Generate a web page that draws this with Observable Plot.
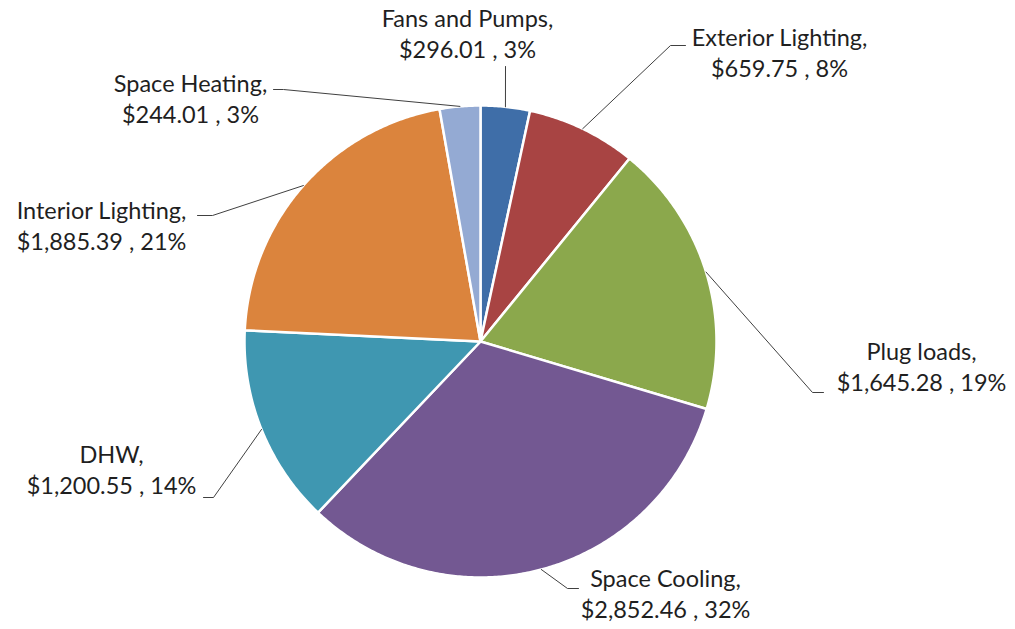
<!DOCTYPE html>
<html><head><meta charset="utf-8">
<script src="https://cdn.jsdelivr.net/npm/d3@7"></script>
<script src="https://cdn.jsdelivr.net/npm/@observablehq/plot@0.6"></script>
<style>body{margin:0;background:#fff;overflow:hidden}</style>
</head><body><div id="chart"></div>
<script>
// ---- data ----
const categories = ["Fans and Pumps","Exterior Lighting","Plug loads","Space Cooling","DHW","Interior Lighting","Space Heating"];
const costs = [296.01, 659.75, 1645.28, 2852.46, 1200.55, 1885.39, 244.01];
const colors = ["#3F6EA8","#A84443","#8BA84C","#735892","#3F97B1","#DB843D","#94AAD3"];

// ---- layout (label placement, pixels) ----
const W = 1015, H = 629, cx = 480, cy = 341, R = 236;
const labelX = [467, 779, 921, 665, 111, 101, 190];
const labelY = [19, 38, 352, 579, 455, 211, 84];
const lineGap = 31;
const leaderTail = [
  [[505, 66]],
  [[670, 45], [685, 45]],
  [[812, 392], [823, 392]],
  [[567, 588], [578, 588]],
  [[213, 497], [203, 497]],
  [[212, 215], [197, 215]],
  [[283, 89], [273, 89]]
];

const rows = categories.map((c, i) => ({cat: c, cost: costs[i]}));
const total = d3.sum(costs);
const arcs = d3.pie().sort(null).value(d => d.cost)(rows);
const px = a => cx + R * Math.sin(a);
const py = a => cy - R * Math.cos(a);

const slicePts = [];
arcs.forEach(a => {
  const cat = a.data.cat;
  slicePts.push({cat, x: cx, y: cy});
  const n = Math.max(2, Math.ceil((a.endAngle - a.startAngle) / (Math.PI / 360)));
  for (let k = 0; k <= n; k++) {
    const t = a.startAngle + (a.endAngle - a.startAngle) * k / n;
    slicePts.push({cat, x: px(t), y: py(t)});
  }
  slicePts.push({cat, x: cx, y: cy});
});

const leaderPts = [];
arcs.forEach((a, i) => {
  const cat = a.data.cat;
  const m = (a.startAngle + a.endAngle) / 2;
  leaderPts.push({cat, x: px(m), y: py(m)});
  leaderTail[i].forEach(([x, y]) => leaderPts.push({cat, x, y}));
});

const fmt = d3.format("$,.2f");
const labels = rows.map((r, i) => ({
  cat: r.cat,
  x: labelX[i],
  y1: labelY[i],
  y2: labelY[i] + lineGap,
  name: r.cat + ",",
  value: fmt(r.cost) + " , " + Math.round(100 * r.cost / total) + "%"
}));

const chart = Plot.plot({
  width: W, height: H, margin: 0,
  style: {background: "#fff"},
  x: {domain: [0, W], range: [0, W], axis: null},
  y: {domain: [0, H], range: [0, H], axis: null},
  color: {domain: categories, range: colors},
  marks: [
    Plot.line(slicePts, {x: "x", y: "y", z: "cat", fill: "cat", stroke: "white", strokeWidth: 2.5, strokeLinejoin: "round"}),
    Plot.line(leaderPts, {x: "x", y: "y", z: "cat", stroke: "#404040", strokeWidth: 1}),
    Plot.text(labels, {x: "x", y: "y1", text: "name", fontSize: 23.5, fontFamily: "Lato", fill: "#1f1f1f"}),
    Plot.text(labels, {x: "x", y: "y2", text: "value", fontSize: 23.5, fontFamily: "Lato", fill: "#1f1f1f"})
  ]
});
document.getElementById("chart").appendChild(chart);
</script>
</body></html>
